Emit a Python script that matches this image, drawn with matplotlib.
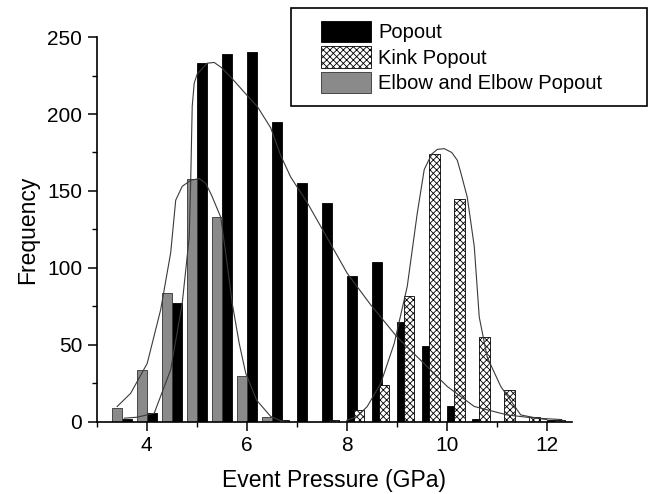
import numpy as np
import matplotlib.pyplot as plt
from matplotlib.ticker import MultipleLocator
from matplotlib.patches import Rectangle

plt.rcParams['font.family'] = ['Liberation Sans', 'DejaVu Sans']
plt.rcParams['hatch.linewidth'] = 0.6

# bar data (x = bar centre, GPa; y = counts)
popout_x = [3.6, 4.1, 4.6, 5.1, 5.6, 6.1, 6.6, 7.1, 7.6, 8.1, 8.6, 9.1, 9.6, 10.1, 10.6, 12.1]
popout_y = [2, 6, 77, 233, 239, 240, 195, 155, 142, 95, 104, 65, 49, 10, 2, 1]

kink_x = [6.75, 7.75, 8.25, 8.75, 9.25, 9.75, 10.25, 10.75, 11.25, 11.75, 12.25]
kink_y = [1, 1, 8, 24, 82, 174, 145, 55, 21, 3, 1]

elbow_x = [3.4, 3.9, 4.4, 4.9, 5.4, 5.9, 6.4]
elbow_y = [9, 34, 84, 158, 133, 30, 3]

# fitted curves
popout_fit_x = [3.55, 3.8, 4.15, 4.48, 4.71, 4.85, 4.88, 4.91, 4.95, 5.01, 5.21, 5.35, 5.5, 5.68,
                6.01, 6.21, 6.48, 6.68, 6.88, 7.2, 7.48, 8.01, 8.48, 9.01, 9.48, 10.01, 10.55,
                11.21, 11.74, 12.3]
popout_fit_y = [2.4, 3, 5.6, 34, 77, 120, 157, 205, 220, 226, 233, 233.5, 230, 224,
                212, 205, 191, 173, 159, 143, 127, 96.5, 76, 55, 40, 23, 10,
                4.5, 2.5, 1.5]

kink_fit_x = [8.0, 8.21, 8.41, 8.68, 8.95, 9.21, 9.41, 9.55, 9.7, 9.81, 9.95, 10.1, 10.21,
              10.28, 10.41, 10.55, 10.65, 10.81, 11.08, 11.48, 11.81, 12.0]
kink_fit_y = [1, 3.5, 10, 25, 51, 88, 135.5, 164, 174, 177, 177.5, 175, 170,
              162, 146, 114, 68, 42, 23, 4.5, 2.4, 1.5]

elbow_fit_x = [3.41, 3.68, 4.01, 4.28, 4.48, 4.58, 4.71, 4.88, 5.05, 5.18, 5.3, 5.48, 5.6,
               5.71, 5.85, 5.98, 6.2, 6.48, 6.7]
elbow_fit_y = [10, 18.6, 38, 73, 110, 144, 153, 157, 158, 155, 147, 133, 105,
               77, 51, 31.6, 14, 3.5, 0.5]

W, H = 649, 494
fig = plt.figure(figsize=(W / 100, H / 100), dpi=100)
ax = fig.add_axes([0.149, 0.146, 0.732, 0.779])

ax.bar(popout_x, popout_y, width=0.2, color='black', edgecolor='black', lw=0.6, label='Popout', zorder=2)
ax.bar(kink_x, kink_y, width=0.21, color='white', edgecolor='black', lw=0.6, hatch='xxxxx',
       label='Kink Popout', zorder=2)
ax.bar(elbow_x, elbow_y, width=0.2, color='#8a8a8a', edgecolor='#333333', lw=0.6,
       label='Elbow and Elbow Popout', zorder=2)

ax.plot(popout_fit_x, popout_fit_y, color='#3a3a3a', lw=0.8, zorder=3)
ax.plot(kink_fit_x, kink_fit_y, color='#3a3a3a', lw=0.8, zorder=3)
ax.plot(elbow_fit_x, elbow_fit_y, color='#3a3a3a', lw=0.8, zorder=3)

ax.set_xlim(3.0, 12.5)
ax.set_ylim(0, 250)
ax.xaxis.set_major_locator(MultipleLocator(2))
ax.xaxis.set_minor_locator(MultipleLocator(1))
ax.yaxis.set_major_locator(MultipleLocator(50))
ax.yaxis.set_minor_locator(MultipleLocator(25))

for s in ['top', 'right']:
    ax.spines[s].set_visible(False)
for s in ['left', 'bottom']:
    ax.spines[s].set_linewidth(1.2)

ax.tick_params(which='major', direction='out', length=6.5, width=1.1, labelsize=15, pad=4)
ax.tick_params(which='minor', direction='out', length=3.5, width=1.0)

ax.set_xlabel('Event Pressure (GPa)', fontsize=16.5, labelpad=10)
ax.set_ylabel('Frequency', fontsize=16.5, labelpad=6)

# legend: entries without frame, box drawn separately
leg = fig.legend(loc='upper left', bbox_to_anchor=(321 / W, 1 - 21 / H),
                 fontsize=14.5, frameon=False,
                 handlelength=2.5, handleheight=1.25, handletextpad=0.35, labelspacing=0.2,
                 borderpad=0, borderaxespad=0)
fig.patches.append(Rectangle((291 / W, 1 - 106 / H), 356 / W, 98 / H, transform=fig.transFigure,
                             facecolor='none', edgecolor='black', lw=1.2, zorder=5))

plt.savefig('out.png', dpi=100)
